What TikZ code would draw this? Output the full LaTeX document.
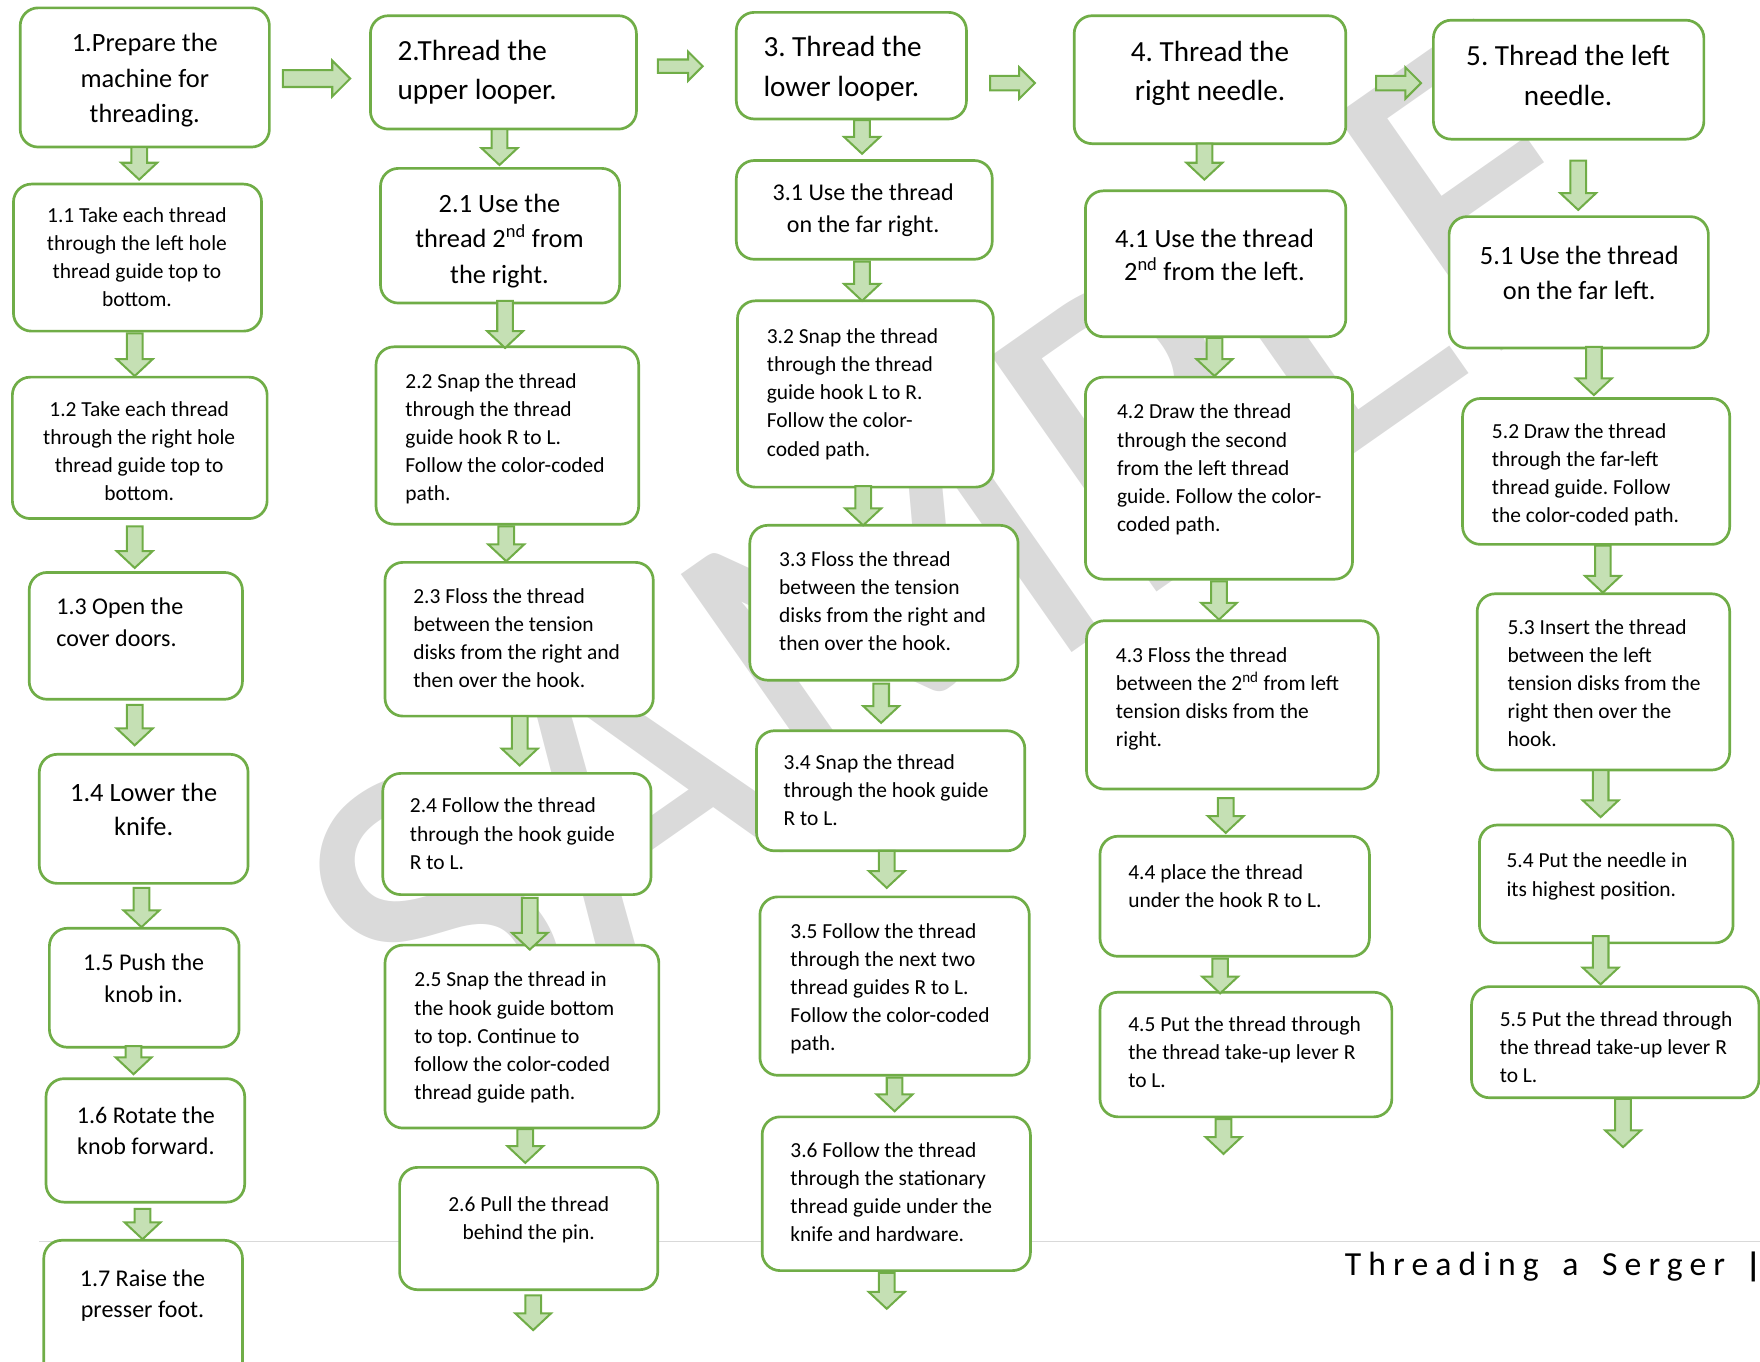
\documentclass[tikz,border=0pt]{standalone}
\usepackage{fontspec}
\setmainfont{Carlito}
\newfontfamily\footfont[LetterSpace=21]{Carlito}
\usetikzlibrary{fit}
\definecolor{gbord}{HTML}{70AD47}
\definecolor{gfill}{HTML}{C5E0B4}
\definecolor{wmgray}{HTML}{DADADA}
\definecolor{rulegray}{HTML}{D9D9D9}
\tikzset{
  box/.style={draw=gbord, line width=2.4pt, rounded corners=16pt, fill=white, inner sep=0pt},
  blockarrow/.style={draw=gbord, fill=gfill, line width=1.8pt, line join=miter},
  tl/.style={anchor=north west, align=left, inner sep=0pt, yshift=-3pt, execute at begin node=\rule{0pt}{0.8em}},
  tc/.style={anchor=north, align=center, inner sep=0pt, yshift=-3pt, execute at begin node=\rule{0pt}{0.8em}},
  fA/.style={font=\fontsize{26}{35}\selectfont},
  fB/.style={font=\fontsize{23.5}{31.5}\selectfont},
  fBb/.style={font=\fontsize{23.5}{30}\selectfont},
  fC/.style={font=\fontsize{21.4}{28}\selectfont},
  fD/.style={font=\fontsize{19.1}{25}\selectfont},
}
% vertical block arrow: x, ytop, ybottom
\newcommand\darr[3]{%
  \draw[blockarrow] ({#1-7},#2) -- ({#1+7},#2) -- ({#1+7},{#3-15}) -- ({#1+16},{#3-15})
    -- (#1,#3) -- ({#1-16},{#3-15}) -- ({#1-7},{#3-15}) -- cycle;}
% horizontal block arrow: x1, x2, y, shaft half, head half, head length
\newcommand\rarr[6]{%
  \draw[blockarrow] (#1,{#3-#4}) -- ({#2-#6},{#3-#4}) -- ({#2-#6},{#3-#5}) -- (#2,#3)
    -- ({#2-#6},{#3+#5}) -- ({#2-#6},{#3+#4}) -- (#1,{#3+#4}) -- cycle;}
\begin{document}
\frenchspacing
\begin{tikzpicture}[x=1pt,y=-1pt]
\useasboundingbox (0,0) rectangle (1568,1213);
% watermark
\node[rotate=35, text=wmgray, font=\fontsize{400}{400}\selectfont, inner sep=0pt] (wm) at (858,492) {SAMPLE};
% footer rule
\draw[rulegray, line width=1pt] (35,1106) coordinate (ruleL) -- (1568,1106) coordinate (ruleR);
% ---------- boxes ----------
\node[box, fit={(18,7) (240,131)}] (b1) {};
\node[box, fit={(12,164) (233,295)}] (b11) {};
\node[box, fit={(11,336) (238,462)}] (b12) {};
\node[box, fit={(26,510) (216,623)}] (b13) {};
\node[box, fit={(35,672) (221,787)}] (b14) {};
\node[box, fit={(44,827) (213,933)}] (b15) {};
\node[box, fit={(41,961) (218,1071)}] (b16) {};
\node[box, fit={(39,1105) (216,1240)}] (b17) {};
\node[box, fit={(330,14) (567,115)}] (b2) {};
\node[box, fit={(339,150) (552,270)}] (b21) {};
\node[box, fit={(335,309) (569,467)}] (b22) {};
\node[box, fit={(343,501) (582,638)}] (b23) {};
\node[box, fit={(341,689) (580,797)}] (b24) {};
\node[box, fit={(343,842) (587,1005)}] (b25) {};
\node[box, fit={(356,1040) (586,1149)}] (b26) {};
\node[box, fit={(656,11) (861,106)}] (b3) {};
\node[box, fit={(656,143) (884,231)}] (b31) {};
\node[box, fit={(657,268) (885,434)}] (b32) {};
\node[box, fit={(668,468) (907,606)}] (b33) {};
\node[box, fit={(674,651) (913,758)}] (b34) {};
\node[box, fit={(677,799) (917,958)}] (b35) {};
\node[box, fit={(679,995) (918,1132)}] (b36) {};
\node[box, fit={(957,14) (1199,128)}] (b4) {};
\node[box, fit={(967,170) (1199,300)}] (b41) {};
\node[box, fit={(967,336) (1205,516)}] (b42) {};
\node[box, fit={(968,553) (1228,703)}] (b43) {};
\node[box, fit={(980,745) (1220,852)}] (b44) {};
\node[box, fit={(980,884) (1240,995)}] (b45) {};
\node[box, fit={(1277,18) (1518,124)}] (b5) {};
\node[box, fit={(1291,193) (1522,310)}] (b51) {};
\node[box, fit={(1303,355) (1541,485)}] (b52) {};
\node[box, fit={(1316,529) (1541,686)}] (b53) {};
\node[box, fit={(1318,735) (1544,840)}] (b54) {};
\node[box, fit={(1311,879) (1567,978)}] (b55) {};
% ---------- arrows ----------
\rarr{252}{312}{70}{7.5}{16}{16}
\rarr{586}{626}{59}{6}{13}{13}
\rarr{882}{922}{74}{6.5}{14}{14}
\rarr{1226}{1266}{74}{6.5}{14}{14}
\darr{124}{131}{160}
\darr{120}{297}{335}
\darr{120}{469}{506}
\darr{120}{628}{664}
\darr{126}{791}{826}
\darr{119}{932}{957}
\darr{127}{1077}{1104}
\darr{445}{115}{147}
\darr{450}{268}{310}
\darr{451}{469}{500}
\darr{463}{638}{682}
\darr{472}{800}{846}
\darr{468}{1006}{1036}
\darr{475}{1154}{1185}
\darr{768}{107}{137}
\darr{768}{233}{268}
\darr{769}{433}{468}
\darr{785}{609}{644}
\darr{790}{758}{791}
\darr{797}{960}{990}
\darr{790}{1134}{1166}
\darr{1073}{128}{160}
\darr{1082}{301}{335}
\darr{1086}{518}{552}
\darr{1092}{711}{742}
\darr{1087}{854}{885}
\darr{1090}{997}{1028}
\darr{1406}{143}{187}
\darr{1420}{309}{352}
\darr{1428}{486}{528}
\darr{1426}{686}{728}
\darr{1426}{834}{877}
\darr{1446}{979}{1022}
% ---------- texts ----------
\node[tc, fB] (t1) at (129,26.7) {1.Prepare the\\machine for\\threading.};
\node[tc, fD] (t11) at (122,181.8) {1.1 Take each thread\\through the left hole\\thread guide top to\\bottom.};
\node[tc, fD] (t12) at (124,354.8) {1.2 Take each thread\\through the right hole\\thread guide top to\\bottom.};
\node[tl, fC] (t13) at (50,529.7) {1.3 Open the\\cover doors.};
\node[tc, fBb] (t14) at (128,694.7) {1.4 Lower the\\knife.};
\node[tc, fC] (t15) at (128,846.7) {1.5 Push the\\knob in.};
\node[tc, fC] (t16) at (130,982.7) {1.6 Rotate the\\knob forward.};
\node[tc, fC] (t17) at (127,1127.7) {1.7 Raise the\\presser foot.};
\node[tl, fA] (t2) at (354,32.5) {2.Thread the\\upper looper.};
\node[tc, fB] (t21) at (445,169.7) {2.1 Use the\\thread 2\textsuperscript{nd} from\\the right.};
\node[tl, fD] (t22) at (361,329.8) {2.2 Snap the thread\\through the thread\\guide hook R to L.\\Follow the color-coded\\path.};
\node[tl, fD] (t23) at (368,520.8) {2.3 Floss the thread\\between the tension\\disks from the right and\\then over the hook.};
\node[tl, fD] (t24) at (365,707.8) {2.4 Follow the thread\\through the hook guide\\R to L.};
\node[tl, fD] (t25) at (369,862.8) {2.5 Snap the thread in\\the hook guide bottom\\to top. Continue to\\follow the color-coded\\thread guide path.};
\node[tc, fD] (t26) at (471,1062.8) {2.6 Pull the thread\\behind the pin.};
\node[tl, fA] (t3) at (680,29.5) {3. Thread the\\lower looper.};
\node[tc, fC] (t31) at (769,160.7) {3.1 Use the thread\\on the far right.};
\node[tl, fD] (t32) at (683,289.8) {3.2 Snap the thread\\through the thread\\guide hook L to R.\\Follow the color-\\coded path.};
\node[tl, fD] (t33) at (694,487.8) {3.3 Floss the thread\\between the tension\\disks from the right and\\then over the hook.};
\node[tl, fD] (t34) at (698,668.8) {3.4 Snap the thread\\through the hook guide\\R to L.};
\node[tl, fD] (t35) at (704,819.8) {3.5 Follow the thread\\through the next two\\thread guides R to L.\\Follow the color-coded\\path.};
\node[tl, fD] (t36) at (704,1014.8) {3.6 Follow the thread\\through the stationary\\thread guide under the\\knife and hardware.};
\node[tc, fA] (t4) at (1078,33.5) {4. Thread the\\right needle.};
\node[tc, fBb] (t41) at (1082,200.7) {4.1 Use the thread\\2\textsuperscript{nd} from the left.};
\node[tl, fD] (t42) at (995,356.8) {4.2 Draw the thread\\through the second\\from the left thread\\guide. Follow the color-\\coded path.};
\node[tl, fD] (t43) at (994,573.8) {4.3 Floss the thread\\between the 2\textsuperscript{nd} from left\\tension disks from the\\right.};
\node[tl, fD] (t44) at (1005,766.8) {4.4 place the thread\\under the hook R to L.};
\node[tl, fD] (t45) at (1005,902.8) {4.5 Put the thread through\\the thread take-up lever R\\to L.};
\node[tc, fA] (t5) at (1397,37.5) {5. Thread the left\\needle.};
\node[tc, fB] (t51) at (1407,215.7) {5.1 Use the thread\\on the far left.};
\node[tl, fD] (t52) at (1329,373.8) {5.2 Draw the thread\\through the far-left\\thread guide. Follow\\the color-coded path.};
\node[tl, fD] (t53) at (1343,548.8) {5.3 Insert the thread\\between the left\\tension disks from the\\right then over the\\hook.};
\node[tl, fD] (t54) at (1342,756.8) {5.4 Put the needle in\\its highest position.};
\node[tl, fD] (t55) at (1336,897.8) {5.5 Put the thread through\\the thread take-up lever R\\to L.};
% footer
\node[anchor=base west, inner sep=0pt, font=\footfont\fontsize{30}{36}\selectfont] (foot) at (1198,1136) {Threading \hspace{8pt}a \hspace{8pt}Serger};
\node[anchor=base, inner sep=0pt, font=\bfseries\fontsize{30}{36}\selectfont] (bar) at (1562,1137) {|};
\end{tikzpicture}
\end{document}
